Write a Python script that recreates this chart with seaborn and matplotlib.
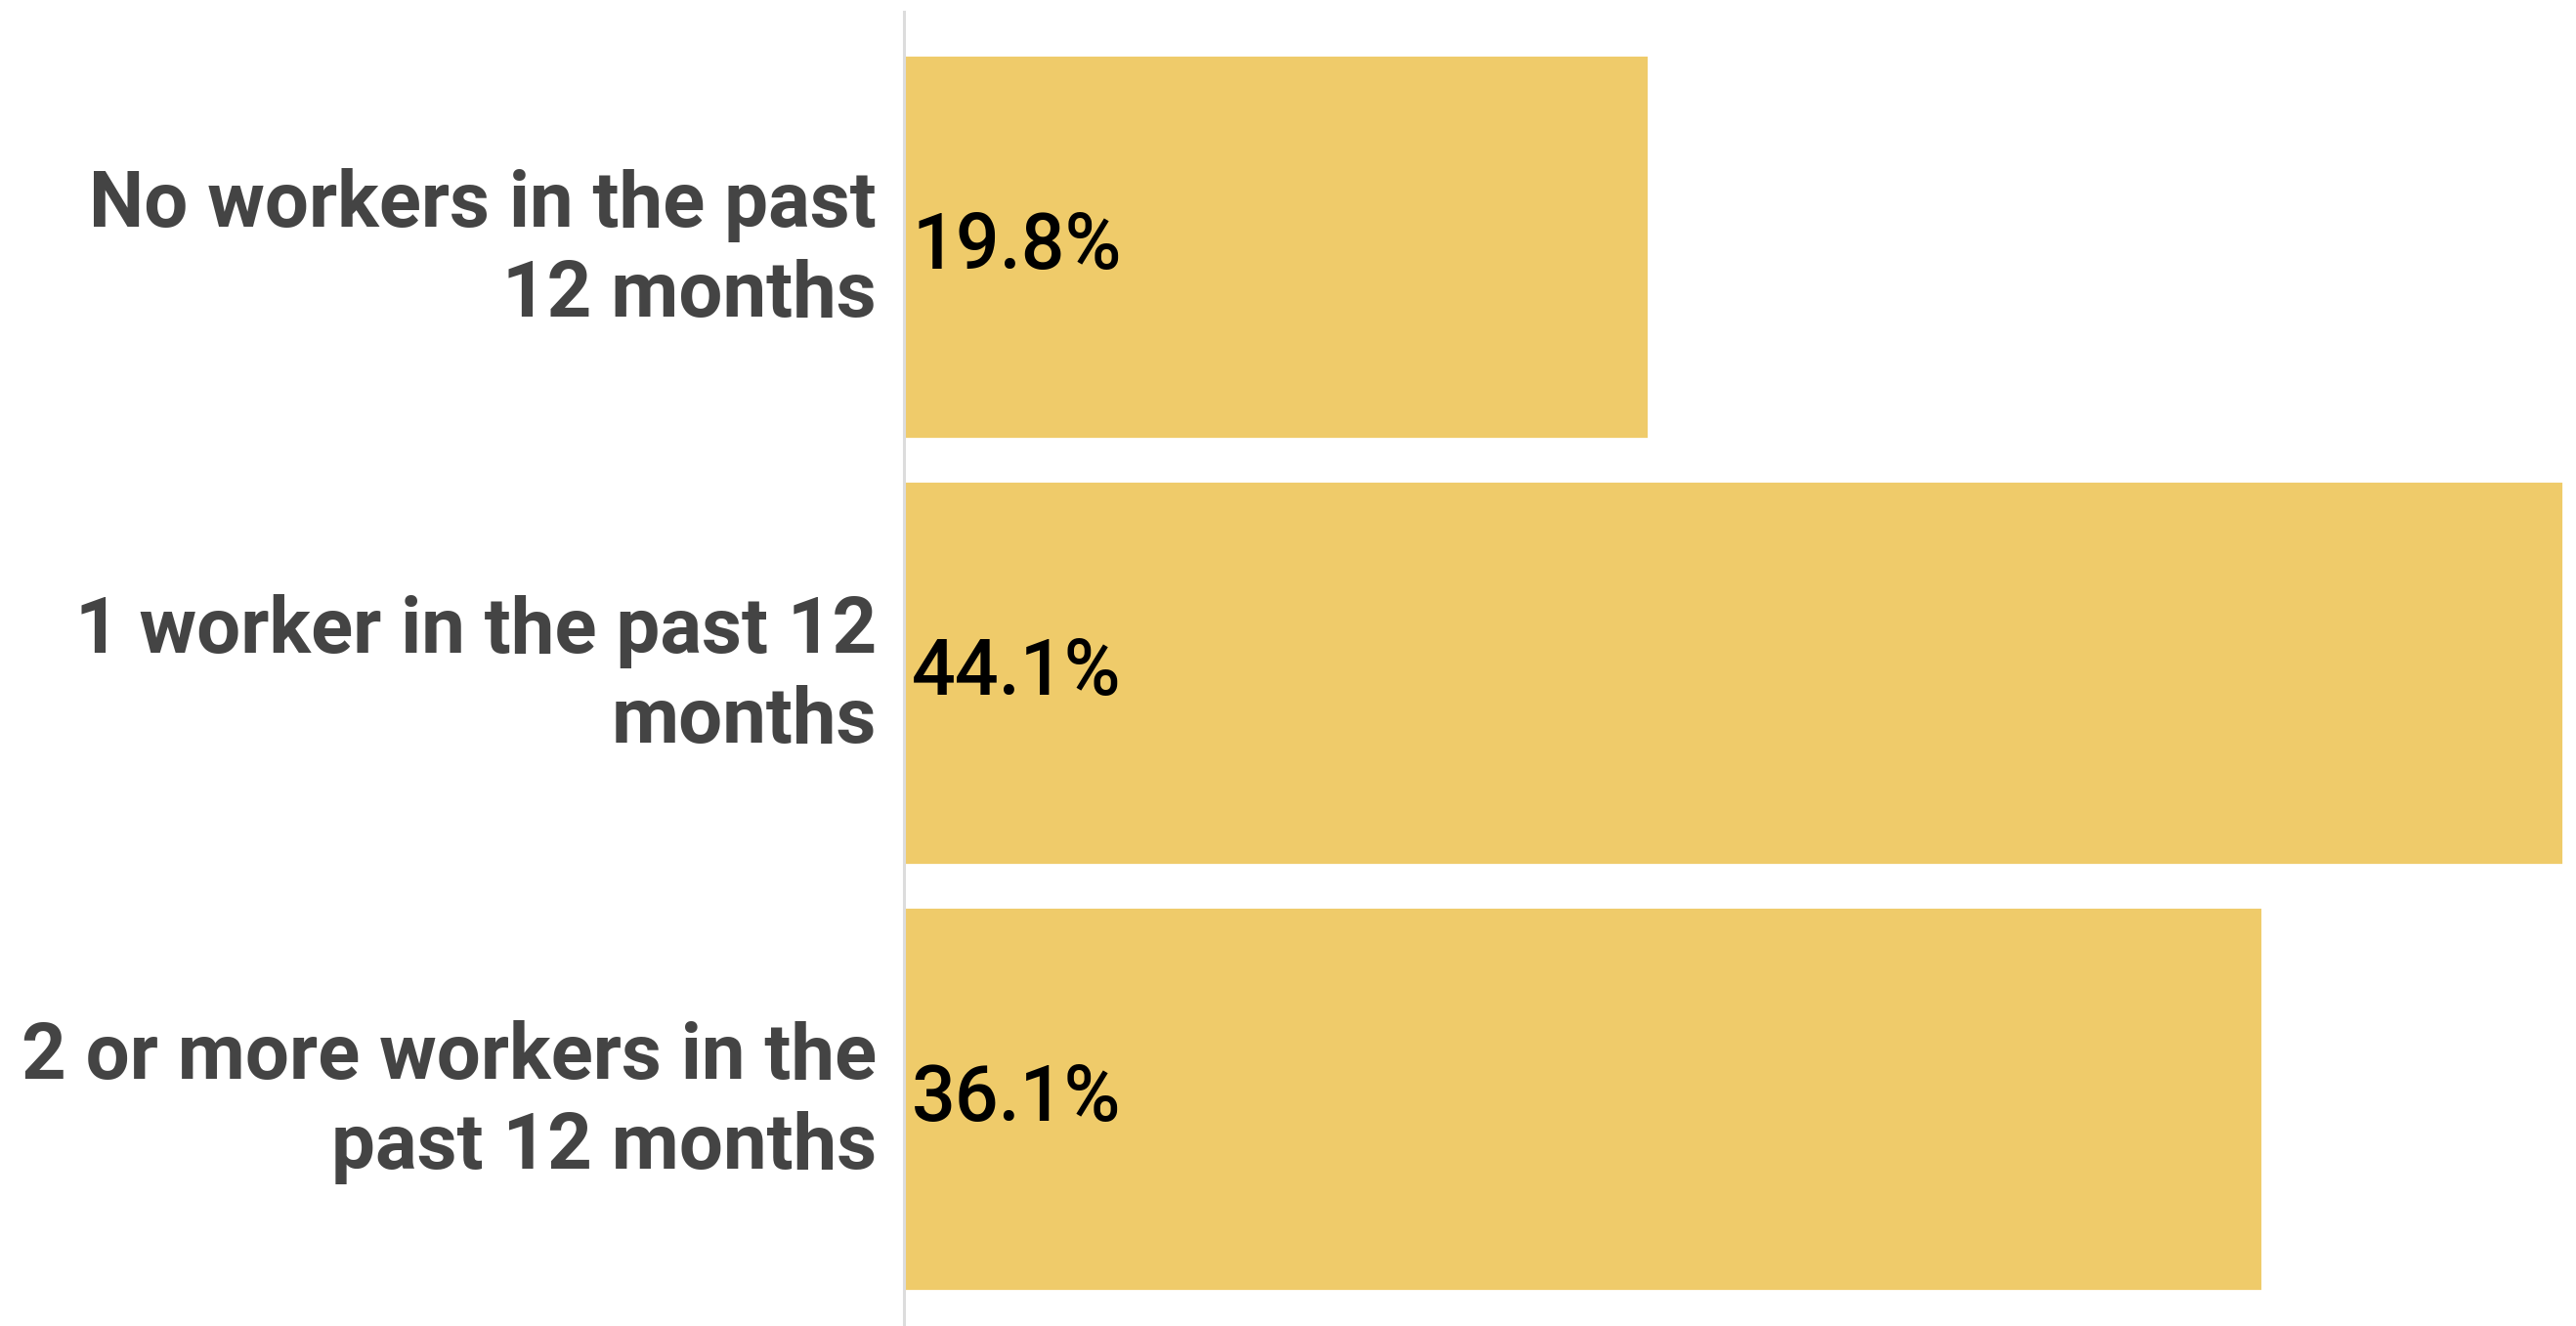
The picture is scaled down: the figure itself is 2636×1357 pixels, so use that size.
import matplotlib
matplotlib.use("Agg")
import matplotlib.pyplot as plt
import matplotlib.transforms as mtransforms
import pandas as pd
import seaborn as sns

categories = [
    "No workers in the past\n12 months",
    "1 worker in the past 12\nmonths",
    "2 or more workers in the\npast 12 months",
]
shares = [19.8, 44.1, 36.1]
value_labels = ["19.8%", "44.1%", "36.1%"]

df = pd.DataFrame({"category": categories, "share": shares})

sns.set_theme(style="white")
plt.rcParams["font.family"] = ["Roboto", "DejaVu Sans"]

W, H, DPI = 2636, 1357, 200
fig = plt.figure(figsize=(W / DPI, H / DPI), dpi=DPI)
ax = fig.add_axes([925 / W, 0, (2623 - 925) / W, (1357 - 12) / H])

sns.barplot(data=df, x="share", y="category", orient="h", color="#EFCB6A",
            saturation=1, width=0.9, ax=ax)

ax.set_xlim(0, 44.1)
ax.set_ylim(2.533, -0.5516)

for i, lab in enumerate(value_labels):
    ax.annotate(lab, xy=(0, i), xytext=(3, 0), textcoords="offset points",
                ha="left", va="center", fontsize=28.4, fontweight="medium",
                color="black")

ax.set_xlabel("")
ax.set_ylabel("")
ax.set_xticks([])
ax.tick_params(axis="y", length=0, pad=10)
shift = mtransforms.ScaledTranslation(0, 13 / DPI, fig.dpi_scale_trans)
for t in ax.get_yticklabels():
    t.set_fontsize(28.7)
    t.set_fontweight("bold")
    t.set_color("#444444")
    t.set_ha("right")
    t.set_multialignment("right")
    t.set_linespacing(1.29)
    t.set_transform(t.get_transform() + shift)

for side in ["top", "right", "bottom"]:
    ax.spines[side].set_visible(False)
ax.spines["left"].set_color("#dcdcdc")
ax.spines["left"].set_linewidth(1.1)

fig.savefig("out.png", dpi=DPI)
